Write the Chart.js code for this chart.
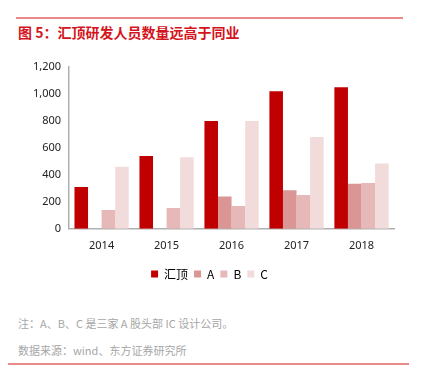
<!DOCTYPE html>
<html lang="zh">
<head>
<meta charset="UTF-8">
<title>汇顶研发人员数量远高于同业</title>
<script src="https://cdn.jsdelivr.net/npm/chart.js"></script>
<style>
  body { margin: 0; background: #fff; width: 424px; height: 377px; position: relative; overflow: hidden;
         font-family: "Noto Sans CJK SC", "Noto Sans", sans-serif; }
  .rule { position: absolute; height: 2px; background: #e88a8a; }
  .title { position: absolute; left: 18px; top: 22px; font-size: 14px; font-weight: bold; color: #d4141c; }
  .note { position: absolute; left: 18px; font-size: 11px; color: #a6a6a6; }
  #box { position: absolute; left: 0; top: 52px; width: 410px; height: 238px; }
</style>
</head>
<body>
<div class="rule" style="left:16px; top:17px; width:387px;"></div>
<div class="title">图 5：汇顶研发人员数量远高于同业</div>
<div id="box"><canvas id="chart"></canvas></div>
<div class="note" style="top:315px;">注：A、B、C 是三家 A 股头部 IC 设计公司。</div>
<div class="note" style="top:342px;">数据来源：wind、东方证券研究所</div>
<div class="rule" style="left:8px; top:363px; width:401px;"></div>

<script>
  // 数据
  const years = ['2014', '2015', '2016', '2017', '2018'];
  const huiding = [310, 540, 800, 1020, 1050];
  const compA = [0, 0, 240, 285, 335];
  const compB = [140, 155, 170, 250, 340];
  const compC = [460, 530, 800, 680, 485];

  const ctx = document.getElementById('chart').getContext('2d');
  new Chart(ctx, {
    type: 'bar',
    data: {
      labels: years,
      datasets: [
        { label: '汇顶', data: huiding, backgroundColor: '#c00000' },
        { label: 'A', data: compA, backgroundColor: '#d99694' },
        { label: 'B', data: compB, backgroundColor: '#e6b9b8' },
        { label: 'C', data: compC, backgroundColor: '#f2dcdb' }
      ]
    },
    options: {
      responsive: true,
      maintainAspectRatio: false,
      animation: false,
      datasets: { bar: { categoryPercentage: 0.835, barPercentage: 1.0 } },
      layout: { padding: { left: 25, top: 15, right: 16, bottom: 0 } },
      plugins: {
        legend: {
          position: 'bottom',
          labels: {
            boxWidth: 7, boxHeight: 7, padding: 6,
            color: '#000', font: { size: 12, family: '"Noto Sans CJK SC", "Noto Sans", sans-serif' }
          }
        },
        tooltip: { enabled: false }
      },
      scales: {
        x: {
          grid: { display: false, drawTicks: false },
          border: { display: true, color: '#b0b0b0', width: 1.5 },
          ticks: { color: '#222', padding: 10, font: { size: 11, family: '"Noto Sans", sans-serif' } }
        },
        y: {
          min: 0, max: 1200,
          grid: { display: false, drawTicks: false },
          border: { display: true, color: '#b0b0b0', width: 1.5 },
          ticks: {
            stepSize: 200, color: '#222', padding: 8,
            font: { size: 11, family: '"Noto Sans", sans-serif' },
            callback: v => v.toLocaleString('en-US')
          }
        }
      }
    }
  });
</script>
</body>
</html>
